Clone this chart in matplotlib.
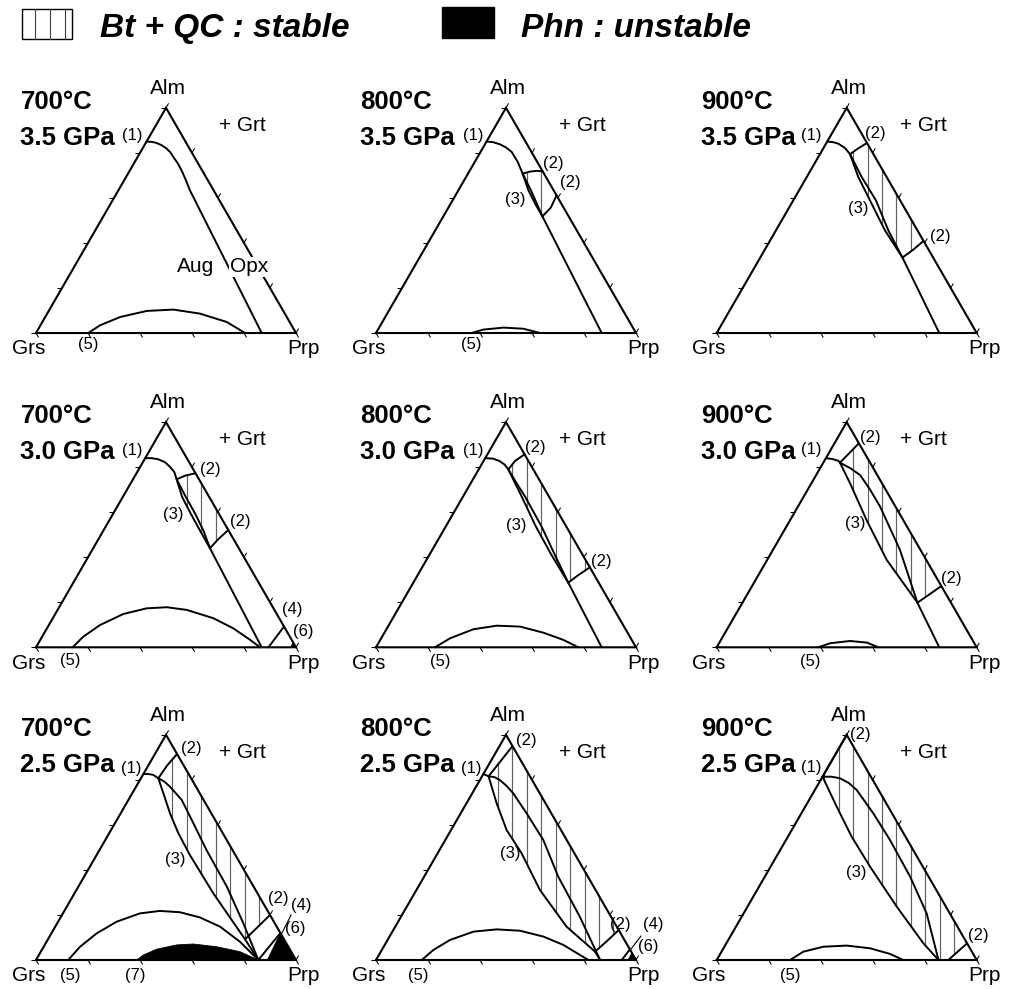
import numpy as np
import matplotlib
matplotlib.use('Agg')
import matplotlib.pyplot as plt
from matplotlib.transforms import Affine2D
from matplotlib.patches import Polygon, Rectangle
from matplotlib.collections import LineCollection

plt.rcParams['font.family'] = ['Liberation Sans', 'DejaVu Sans']

# ---------------------------------------------------------------
# compositions are (Prp %, Alm %) ; Grs = 100 - Prp - Alm
# ---------------------------------------------------------------
temps = ["700°C", "800°C", "900°C"]
pressures = ["3.5 GPa", "3.0 GPa", "2.5 GPa"]
tick_vals = [0, 20, 40, 60, 80, 100]

# 700 C / 3.5 GPa
cpx_700_35 = [(0, 85), (2, 84.9), (4.2, 84.4), (6.6, 83.4), (9.3, 81.9), (11.6, 80.2), (13.7, 78.2),
              (16.8, 75.4), (19.9, 72.2), (23.6, 68), (27.5, 63.4), (86.8, 0)]
grt_700_35 = [(20.1, 0), (22.9, 3.4), (28.8, 7.1), (37.7, 9.8), (47.6, 10.4), (58.8, 8.6), (70.9, 4.9), (80.4, 0)]
lab_700_35 = [("(1)", 0.372, 0.758), ("(5)", 0.201, -0.046), ("Aug", 0.614, 0.255), ("Opx", 0.819, 0.255)]

# 800 C / 3.5 GPa
cpx_800_35 = [(0, 85), (2.5, 84.8), (5.8, 83.8), (8.8, 82.4), (12, 80.4), (16.5, 76), (21, 70.8),
              (28.6, 62.6), (38.1, 51.8), (86.8, 0)]
c3_800_35 = [(21, 70.8), (26.9, 63.4), (33.2, 56.7), (38.1, 51.8)]
a2_800_35 = [(21, 70.8), (23.4, 71.7), (25.8, 72), (28.2, 71.8)]
b2_800_35 = [(38.1, 51.8), (39.4, 55.7), (38.9, 61.1)]
grt_800_35 = [(36.8, 0), (40.5, 1.5), (47.8, 2.4), (55.7, 1.9), (63.1, 0)]
lab_800_35 = [("(1)", 0.374, 0.758), ("(2)", 0.682, 0.653), ("(2)", 0.746, 0.578),
              ("(3)", 0.535, 0.512), ("(5)", 0.368, -0.046)]

# 900 C / 3.5 GPa
cpx_900_35 = [(0, 85), (2.2, 84.8), (4.7, 84.1), (8.2, 82.2), (11.6, 79.4), (21.1, 69.3), (31.8, 58.9),
              (43.2, 45.6), (54.7, 33.5), (85.6, 0)]
c3_900_35 = [(11.6, 79.4), (19.8, 69.3), (29.5, 58.9), (41.9, 45.6), (54.7, 33.5)]
a2_900_35 = [(11.6, 79.4), (13.2, 81.7), (15.6, 84.4)]
b2_900_35 = [(54.7, 33.5), (57.1, 37), (59.1, 40.9)]
lab_900_35 = [("(1)", 0.365, 0.758), ("(2)", 0.609, 0.768), ("(3)", 0.545, 0.480), ("(2)", 0.859, 0.373)]

# 700 C / 3.0 GPa
cpx_700_30 = [(0, 84), (2.5, 84), (5.3, 83.5), (8.5, 82.2), (11.4, 80.2), (14.3, 77.8), (16.8, 74.6),
              (24.1, 66.9), (31.4, 59.5), (38.5, 51.8), (44.9, 44), (86.8, 0)]
c3_700_30 = [(16.8, 74.6), (22.7, 66.9), (29.7, 59.5), (37.2, 51.8), (44.9, 44)]
a2_700_30 = [(16.8, 74.6), (19.2, 76.2), (22.7, 77.3)]
b2_700_30 = [(44.9, 44), (46.1, 48), (47.9, 52.1)]
grt_700_30 = [(14.1, 0), (15.8, 4.7), (19.7, 9.9), (26.2, 14.8), (33.9, 17.3), (41.4, 17.8), (49.7, 16.6),
              (61.8, 12.9), (71.7, 8.4), (80.7, 3.3), (86.2, 0)]
l4_700_30 = [(89.4, 0), (90.8, 9.2)]
phn6_700_30 = [(97.9, 0), (100, 0), (97.9, 2.1)]
lab_700_30 = [("(1)", 0.372, 0.756), ("(2)", 0.669, 0.682), ("(2)", 0.785, 0.483), ("(3)", 0.528, 0.509),
              ("(4)", 0.987, 0.146), ("(6)", 1.028, 0.060), ("(5)", 0.131, -0.049)]

# 800 C / 3.0 GPa
cpx_800_30 = [(0, 84), (3, 83.8), (6, 82.8), (8.8, 81.2), (11.4, 79), (17, 73.5), (23.9, 66.9),
              (36.9, 53.6), (48.3, 41), (59.6, 28.7), (86.8, 0)]
c3_800_30 = [(11.4, 79), (22.6, 66.9), (34.7, 53.6), (47, 41), (59.6, 28.7)]
a2_800_30 = [(11.4, 79), (12.1, 82.8), (14.3, 85.7)]
b2_800_30 = [(59.6, 28.7), (61.8, 32.1), (64.5, 35.5)]
grt_800_30 = [(22.7, 0), (26.5, 4), (33.4, 8), (41.6, 9.6), (50.8, 9.2), (61.1, 6.5), (70.4, 3.3), (77.8, 0)]
lab_800_30 = [("(1)", 0.374, 0.756), ("(2)", 0.612, 0.769), ("(2)", 0.868, 0.329),
              ("(3)", 0.541, 0.470), ("(5)", 0.246, -0.055)]

# 900 C / 3.0 GPa
cpx_900_30 = [(0, 84), (2.8, 83.6), (5.4, 82.8), (6.4, 82), (11.5, 79.6), (16.9, 76.5), (23.8, 70.2),
              (31.6, 62.5), (48.9, 43.2), (67.3, 19.8), (85.6, 0)]
c3_900_30 = [(6.4, 82), (14.9, 72.8), (29.4, 56.5), (46, 38.8), (67.3, 19.8)]
a2_900_30 = [(6.4, 82), (9.4, 90.6)]
b2_900_30 = [(67.3, 19.8), (72.8, 27.2)]
grt_900_30 = [(39.1, 0), (42.7, 1.8), (49.9, 2.8), (56.7, 2.1), (62.2, 0)]
lab_900_30 = [("(1)", 0.365, 0.759), ("(2)", 0.590, 0.807), ("(3)", 0.532, 0.476),
              ("(2)", 0.904, 0.265), ("(5)", 0.359, -0.055)]

# 700 C / 2.5 GPa
cpx_700_25 = [(0, 82.6), (2, 82.6), (4, 82.2), (6.7, 80.7), (9.8, 79.2), (13, 77), (20.5, 71.1),
              (30.2, 60.7), (41.2, 48.8), (57.1, 32.6), (71.6, 16.3), (85.5, 0)]
c3_700_25 = [(6.7, 80.7), (12, 74), (19, 65.1), (26.6, 56.3), (35.9, 46.6), (53.4, 29.6), (75.8, 9.2), (85.5, 0)]
a2_700_25 = [(6.7, 80.7), (7.2, 86.2), (8.5, 91.5)]
b2_700_25 = [(75.8, 9.2), (77.9, 14.5), (80, 20)]
grt_700_25 = [(12.4, 0), (14, 5.9), (17.4, 11.8), (22.5, 17), (29.6, 20.7), (36.8, 21.8), (44.8, 21.2),
              (53.6, 18.9), (63.4, 14.8), (74.4, 8.1), (85.5, 0)]
l4_700_25 = [(85.5, 0), (88, 12)]
phn6_700_25 = [(88, 12), (89, 0), (100, 0)]
phn7_700_25 = [(38.7, 0), (40.2, 2.2), (44, 4.8), (50.8, 6.7), (57, 7.1), (66.5, 5.9), (76.6, 3.7), (85.5, 0)]
lead_700_25 = [(0.942, 0.096), (0.981, 0.173)]
lab_700_25 = [("(1)", 0.368, 0.737), ("(2)", 0.599, 0.814), ("(3)", 0.535, 0.385), ("(2)", 0.932, 0.237),
              ("(4)", 1.022, 0.208), ("(6)", 0.996, 0.122), ("(5)", 0.131, -0.058), ("(7)", 0.381, -0.058)]

# 800 C / 2.5 GPa
cpx_800_25 = [(0, 82.6), (2.5, 81.6), (5, 81.2), (7.7, 79.9), (11.6, 77.3), (15.8, 74), (25.4, 65.1),
              (37.7, 53.3), (51.6, 37), (68.8, 19.2), (86.2, 0)]
c3_800_25 = [(2.5, 81.6), (11.6, 69.6), (21.4, 57.7), (32.3, 47.4), (47.5, 31.1), (65.9, 14.8), (82.4, 3.7), (86.2, 0)]
a2_800_25 = [(2.5, 81.6), (5, 95)]
b2_800_25 = [(82.4, 3.7), (84.7, 8.6), (86.7, 13.3)]
grt_800_25 = [(17.6, 0), (19.8, 4.4), (24, 8.9), (31.2, 12.6), (39.6, 13.6), (48.9, 13), (59.2, 10.4),
              (68.7, 6.7), (77.4, 2.2), (81.7, 0)]
l4_800_25 = [(94.5, 0), (95.3, 4.7)]
phn6_800_25 = [(96.9, 0), (100, 0), (96.9, 3.1)]
lead_800_25 = [(0.979, 0.040), (1.019, 0.092)]
lab_800_25 = [("(1)", 0.368, 0.737), ("(2)", 0.580, 0.846), ("(3)", 0.515, 0.410), ("(2)", 0.938, 0.135),
              ("(4)", 1.067, 0.135), ("(6)", 1.047, 0.051), ("(5)", 0.163, -0.058)]

# 900 C / 2.5 GPa
cpx_900_25 = [(0, 81.4), (3.5, 81.4), (7.1, 80.7), (11.5, 78.6), (16.1, 75.5), (27.7, 65.1), (40, 53.3),
              (55.9, 37), (70.4, 20.7), (85.3, 0)]
c3_900_25 = [(0, 81.4), (12.1, 68.1), (24.5, 54.8), (38.2, 41.5), (57.4, 23.7), (75.8, 7.4), (85.3, 0)]
a2_900_25 = [(0, 81.4), (0, 100)]
b2_900_25 = [(85.3, 0), (89.1, 0), (92.6, 7.4)]
grt_900_25 = [(28.2, 0), (31.5, 3.7), (38.1, 5.9), (46.8, 6.4), (56.4, 5.2), (65.3, 2.7), (71.8, 0)]
lab_900_25 = [("(1)", 0.365, 0.741), ("(2)", 0.551, 0.869), ("(3)", 0.538, 0.336),
              ("(2)", 1.006, 0.096), ("(5)", 0.282, -0.058)]

panels = {
    (0, 0): dict(cpx=cpx_700_35, grt=grt_700_35, labels=lab_700_35),
    (0, 1): dict(cpx=cpx_800_35, c3=c3_800_35, a2=a2_800_35, b2=b2_800_35, grt=grt_800_35, labels=lab_800_35),
    (0, 2): dict(cpx=cpx_900_35, c3=c3_900_35, a2=a2_900_35, b2=b2_900_35, labels=lab_900_35),
    (1, 0): dict(cpx=cpx_700_30, c3=c3_700_30, a2=a2_700_30, b2=b2_700_30, grt=grt_700_30,
                 l4=l4_700_30, phn=[phn6_700_30], labels=lab_700_30),
    (1, 1): dict(cpx=cpx_800_30, c3=c3_800_30, a2=a2_800_30, b2=b2_800_30, grt=grt_800_30, labels=lab_800_30),
    (1, 2): dict(cpx=cpx_900_30, c3=c3_900_30, a2=a2_900_30, b2=b2_900_30, grt=grt_900_30, labels=lab_900_30),
    (2, 0): dict(cpx=cpx_700_25, c3=c3_700_25, a2=a2_700_25, b2=b2_700_25, grt=grt_700_25,
                 l4=l4_700_25, phn=[phn6_700_25, phn7_700_25], lead=lead_700_25, labels=lab_700_25),
    (2, 1): dict(cpx=cpx_800_25, c3=c3_800_25, a2=a2_800_25, b2=b2_800_25, grt=grt_800_25,
                 l4=l4_800_25, phn=[phn6_800_25], lead=lead_800_25, labels=lab_800_25),
    (2, 2): dict(cpx=cpx_900_25, c3=c3_900_25, a2=a2_900_25, b2=b2_900_25, grt=grt_900_25, labels=lab_900_25),
}

# layout (pixels): Grs corner of each panel and side length
col_x = [36, 376, 716.7]
row_y = [333, 647.3, 960]
side = 260
s3 = np.sqrt(3)

fig = plt.figure(figsize=(10.13, 9.89), dpi=100)
fig.patch.set_facecolor('white')
ax = fig.add_axes([0, 0, 1, 1])
ax.set_xlim(0, 1013)
ax.set_ylim(989, 0)
ax.axis('off')
ax.set_autoscale_on(False)

LW = 1.4
small = 12

for (r, c), p in panels.items():
    cart = Affine2D().scale(side, -side).translate(col_x[c], row_y[r]) + ax.transData
    tern = Affine2D(np.array([[0.01, 0.005, 0.0], [0.0, 0.005 * s3, 0.0], [0.0, 0.0, 1.0]])) + cart

    # hatched Bt + QC field
    if 'c3' in p:
        c3, a2, b2 = p['c3'], p['a2'], p['b2']
        k = int(np.argmin([np.hypot(x - b2[0][0], y - b2[0][1]) for x, y in c3]))
        poly = list(c3[:k + 1]) + list(b2[1:]) + list(a2[::-1][:-1])
        patch = Polygon(poly, closed=True, fc='none', ec='none', transform=tern)
        ax.add_patch(patch)
        us = np.arange(0.025, 1.0, 0.0555)
        lc = LineCollection([[(u, -0.05), (u, 1.05)] for u in us], colors='#606060',
                            linewidths=0.85, transform=cart)
        ax.add_collection(lc, autolim=False)
        lc.set_clip_path(patch)

    # Phn unstable fields
    for blk in p.get('phn', []):
        ax.add_patch(Polygon(blk, closed=True, fc='black', ec='black', lw=0.6, transform=tern))

    # boundaries
    for key in ['cpx', 'c3', 'a2', 'b2', 'grt', 'l4']:
        if key in p:
            xs, ys = zip(*p[key])
            ax.plot(xs, ys, color='black', lw=LW, transform=tern, solid_joinstyle='round',
                    solid_capstyle='round')
    if 'lead' in p:
        xs, ys = zip(*p['lead'])
        ax.plot(xs, ys, color='black', lw=0.8, transform=cart)

    # triangle and ticks
    ax.plot([0, 100, 0, 0], [0, 0, 100, 0], color='black', lw=1.5, transform=tern,
            solid_joinstyle='miter')
    tl = 0.02
    segs = []
    for t in tick_vals:
        f = t / 100
        u, v = f / 2, f * s3 / 2
        segs.append([(u, v), (u - tl, v)])
        segs.append([(f, 0), (f + tl * 0.5, -tl * s3 / 2)])
        u = 1 - f / 2
        segs.append([(u, v), (u + tl * 0.5, v + tl * s3 / 2)])
    ax.add_collection(LineCollection(segs, colors='black', linewidths=0.75, transform=cart), autolim=False)

    # corner names, titles
    ax.text(0.509, 0.919, "Alm", fontsize=15, ha='center', va='baseline', transform=cart)
    ax.text(-0.03, -0.082, "Grs", fontsize=15, ha='center', va='baseline', transform=cart)
    ax.text(1.028, -0.082, "Prp", fontsize=15, ha='center', va='baseline', transform=cart)
    ax.text(0.795, 0.777, "+ Grt", fontsize=15, ha='center', va='baseline', transform=cart)
    ax.text(-0.06, 0.861, temps[c], fontsize=18.5, fontweight='bold', ha='left', va='baseline',
            transform=cart)
    ax.text(-0.06, 0.723, pressures[r], fontsize=18.5, fontweight='bold', ha='left', va='baseline',
            transform=cart)

    for s, u, v in p['labels']:
        if s in ("Aug", "Opx"):
            kw = dict(fontsize=15)
            if s == "Opx":
                kw['bbox'] = dict(facecolor='white', edgecolor='none', pad=0.5)
        else:
            kw = dict(fontsize=small)
        ax.text(u, v, s, ha='center', va='center', transform=cart, zorder=5, **kw)

# legend
ax.add_patch(Rectangle((22, 9), 50, 30, fc='white', ec='black', lw=1.0))
for x in [35, 50, 65]:
    ax.plot([x, x], [9, 39], color='#404040', lw=0.8)
ax.text(100, 37, "Bt + QC : stable", fontsize=24, fontweight='bold', fontstyle='italic', va='baseline')
ax.add_patch(Rectangle((442, 7), 52, 31, fc='black', ec='black'))
ax.text(521, 37, "Phn : unstable", fontsize=24, fontweight='bold', fontstyle='italic', va='baseline')

fig.savefig('out.png', dpi=100, facecolor='white')
